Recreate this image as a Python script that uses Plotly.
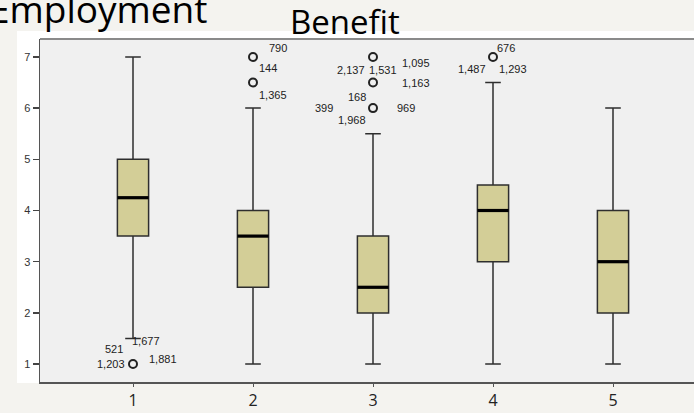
import plotly.graph_objects as go

# ---- data ----
categories = [1, 2, 3, 4, 5]
q1 = [3.5, 2.5, 2.0, 3.0, 2.0]
median = [4.25, 3.5, 2.5, 4.0, 3.0]
q3 = [5.0, 4.0, 3.5, 4.5, 4.0]
lower_whisker = [1.5, 1.0, 1.0, 1.0, 1.0]
upper_whisker = [7.0, 6.0, 5.5, 6.5, 6.0]

outlier_cat = [1, 2, 2, 3, 3, 3, 4]
outlier_val = [1.0, 7.0, 6.5, 7.0, 6.5, 6.0, 7.0]

label_cat = [1, 1, 1, 1, 2, 2, 2, 3, 3, 3, 3, 3, 3, 3, 3, 4, 4, 4]
label_val = [1.5, 1.5, 1.0, 1.0, 7.0, 7.0, 6.5, 7.0, 7.0, 7.0, 6.5, 6.5, 6.0, 6.0, 6.0, 7.0, 7.0, 7.0]
label_text = ["1,677", "521", "1,203", "1,881", "790", "144", "1,365",
              "2,137", "1,531", "1,095", "1,163", "168", "399", "969", "1,968",
              "676", "1,487", "1,293"]

y_ticks = [1, 2, 3, 4, 5, 6, 7]
x_tick_labels = ["1", "2", "3", "4", "5"]

# ---- label placement (style, px offsets) ----
label_dx = [-3, -8, -6, 14, 14, 4, 4, -6, -6, 27, 27, -5, -38, 22, -5, 2, -5, 4]
label_dy = [-3, -11, 0, 5, 9, -11, -12, -13, -13, -6, 0, -14, 0, 0, -12, 9, -12, -12]
label_anchor = ["left", "right", "right", "left", "left", "left", "left",
                "right", "left", "left", "left", "right", "right", "left", "right",
                "left", "right", "left"]

BOX_W = 0.26
fig = go.Figure()

fig.add_trace(go.Box(
    x=categories, q1=q1, median=median, q3=q3,
    lowerfence=lower_whisker, upperfence=upper_whisker,
    width=BOX_W, whiskerwidth=0.5, boxpoints=False,
    fillcolor="#d3ce97", line=dict(color="#2e2e2e", width=1.5),
    showlegend=False, hoverinfo="skip",
))

mx, my = [], []
for c, m in zip(categories, median):
    mx += [c - BOX_W / 2, c + BOX_W / 2, None]
    my += [m, m, None]
fig.add_trace(go.Scatter(x=mx, y=my, mode="lines",
                         line=dict(color="#000000", width=3.2),
                         showlegend=False, hoverinfo="skip"))

fig.add_trace(go.Scatter(x=outlier_cat, y=outlier_val, mode="markers",
                         marker=dict(symbol="circle-open", size=8,
                                     line=dict(width=2, color="#222222"),
                                     color="#222222"),
                         showlegend=False, hoverinfo="skip"))

annotations = []
for c, v, t, dx, dy, a in zip(label_cat, label_val, label_text, label_dx, label_dy, label_anchor):
    annotations.append(dict(x=c, y=v, xref="x", yref="y", text=t, showarrow=False,
                            xanchor=a, yanchor="middle", xshift=dx, yshift=dy,
                            font=dict(family="Liberation Sans, Arial", size=11, color="#222222")))

L, T, B, W, H = 40, 39, 31, 694, 413
PW, PH = W - L, H - T - B

def px_x(px):
    return (px - L) / PW

def px_y(py):
    return (H - B - py) / PH

annotations.append(dict(x=px_x(210), y=px_y(9), xref="paper", yref="paper",
                        text="Employment", showarrow=False, xanchor="right", yanchor="middle",
                        font=dict(family="Open Sans", size=37, color="#000000")))
annotations.append(dict(x=px_x(345), y=px_y(21), xref="paper", yref="paper",
                        text="Benefit", showarrow=False, xanchor="center", yanchor="middle",
                        font=dict(family="Open Sans", size=33, color="#000000")))

shapes = [
    dict(type="rect", xref="paper", yref="paper", x0=px_x(17), x1=1.02, y0=px_y(383), y1=px_y(31),
         fillcolor="#ffffff", line=dict(width=0), layer="below"),
    dict(type="rect", xref="paper", yref="paper", x0=0, x1=1.02, y0=0, y1=1,
         fillcolor="#f0f0f0", line=dict(width=0), layer="below"),
    dict(type="line", xref="paper", yref="paper", x0=0, x1=1.02, y0=1, y1=1,
         line=dict(color="#8a8a8a", width=2)),
]

fig.update_layout(
    width=W, height=H, autosize=False,
    margin=dict(l=L, r=0, t=T, b=B, pad=0),
    paper_bgcolor="#f4f3ef", plot_bgcolor="rgba(0,0,0,0)",
    showlegend=False, hovermode=False,
    annotations=annotations, shapes=shapes,
    xaxis=dict(range=[0.225, 5.675], tickvals=categories, ticktext=x_tick_labels,
               ticks="outside", ticklen=3, tickcolor="#555555", tickwidth=1,
               showline=True, linecolor="#555555", linewidth=1.5,
               showgrid=False, zeroline=False,
               tickfont=dict(family="Open Sans", size=16, color="#222222")),
    yaxis=dict(range=[0.65, 7.35], tickvals=y_ticks,
               ticks="outside", ticklen=6, tickcolor="#444444", tickwidth=1.3,
               showline=True, linecolor="#555555", linewidth=1.5,
               showgrid=False, zeroline=False,
               tickfont=dict(family="Liberation Sans, Arial", size=11, color="#333333")),
)

fig.write_html("out.html",
               config={"displayModeBar": False, "staticPlot": True},
               post_script="document.body.style.margin='0';document.body.style.padding='0';"
                           "document.body.style.overflow='hidden';")
